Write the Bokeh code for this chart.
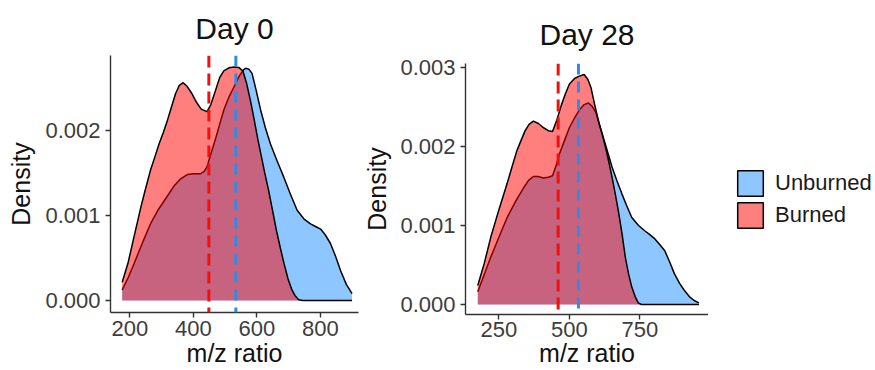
from bokeh.plotting import figure
from bokeh.layouts import row
from bokeh.models import Range1d, FixedTicker, NumeralTickFormatter, Span, Legend, LegendItem
from bokeh.embed import file_html
from bokeh.resources import INLINE

FONT = "Liberation Sans"
NAN = float("nan")

# ---------------- data (density curves) ----------------
groups = ["Unburned", "Burned"]
titles = ["Day 0", "Day 28"]

# Day 0 - Burned
d0_burned_x = [176, 195, 213, 235, 250, 265, 280, 292, 305, 317, 330, 344, 356, 368, 380, 396, 410, 425,
               443, 455, 470, 483, 496, 512, 528, 543, 556, 568, 580, 592, 603, 614, 625, 638, 650, 662,
               674, 686, 698, 710, 720, 732, 745, 900]
d0_burned_y = [0.215e-3, 0.45e-3, 0.745e-3, 1.10e-3, 1.32e-3, 1.53e-3, 1.70e-3, 1.84e-3, 1.97e-3, 2.10e-3,
               2.26e-3, 2.43e-3, 2.53e-3, 2.56e-3, 2.52e-3, 2.43e-3, 2.33e-3, 2.25e-3, 2.22e-3, 2.30e-3,
               2.47e-3, 2.62e-3, 2.70e-3, 2.735e-3, 2.745e-3, 2.74e-3, 2.70e-3, 2.55e-3, 2.35e-3, 2.12e-3,
               1.90e-3, 1.70e-3, 1.50e-3, 1.28e-3, 1.05e-3, 0.82e-3, 0.62e-3, 0.43e-3, 0.26e-3, 0.13e-3,
               0.06e-3, 0.01e-3, 0.0, 0.0]

# Day 0 - Unburned
d0_unburned_x = [176, 195, 213, 240, 265, 290, 317, 340, 360, 381, 400, 423, 435, 443, 456, 470, 483, 496,
                 512, 528, 545, 558, 565, 575, 585, 598, 612, 627, 643, 664, 685, 706, 727, 748, 769, 785,
                 801, 816, 832, 848, 864, 882, 900]
d0_unburned_y = [0.125e-3, 0.27e-3, 0.43e-3, 0.68e-3, 0.90e-3, 1.07e-3, 1.22e-3, 1.35e-3, 1.43e-3, 1.48e-3,
                 1.49e-3, 1.49e-3, 1.52e-3, 1.57e-3, 1.73e-3, 1.90e-3, 2.07e-3, 2.24e-3, 2.39e-3, 2.51e-3,
                 2.64e-3, 2.71e-3, 2.73e-3, 2.72e-3, 2.67e-3, 2.47e-3, 2.24e-3, 2.03e-3, 1.84e-3, 1.64e-3,
                 1.45e-3, 1.25e-3, 1.06e-3, 0.96e-3, 0.90e-3, 0.87e-3, 0.84e-3, 0.77e-3, 0.67e-3, 0.52e-3,
                 0.35e-3, 0.19e-3, 0.08e-3]

# Day 28 - Burned
d28_burned_x = [175, 198, 221, 250, 279, 297, 314, 330, 343, 357, 372, 390, 407, 425, 440, 455, 471, 486,
                500, 518, 535, 552, 565, 576, 590, 605, 617, 628, 640, 651, 663, 675, 687, 698, 710, 721,
                733, 744, 755, 959]
d28_burned_y = [0.24e-3, 0.52e-3, 0.85e-3, 1.20e-3, 1.53e-3, 1.75e-3, 1.95e-3, 2.09e-3, 2.20e-3, 2.28e-3,
                2.32e-3, 2.29e-3, 2.24e-3, 2.20e-3, 2.19e-3, 2.33e-3, 2.52e-3, 2.67e-3, 2.79e-3, 2.86e-3,
                2.89e-3, 2.91e-3, 2.85e-3, 2.75e-3, 2.52e-3, 2.29e-3, 2.14e-3, 1.99e-3, 1.80e-3, 1.61e-3,
                1.39e-3, 1.15e-3, 0.88e-3, 0.60e-3, 0.38e-3, 0.22e-3, 0.10e-3, 0.02e-3, 0.0, 0.0]

# Day 28 - Unburned
d28_unburned_x = [175, 198, 221, 250, 279, 310, 338, 355, 372, 390, 407, 425, 440, 452, 465, 483, 500, 518,
                  535, 552, 567, 580, 594, 608, 623, 637, 651, 668, 686, 703, 721, 745, 768, 786, 803, 820,
                  838, 855, 872, 890, 907, 925, 942, 959]
d28_unburned_y = [0.16e-3, 0.38e-3, 0.60e-3, 0.85e-3, 1.10e-3, 1.31e-3, 1.48e-3, 1.57e-3, 1.62e-3, 1.62e-3,
                  1.60e-3, 1.61e-3, 1.63e-3, 1.75e-3, 1.91e-3, 2.08e-3, 2.24e-3, 2.36e-3, 2.46e-3, 2.53e-3,
                  2.55e-3, 2.51e-3, 2.43e-3, 2.26e-3, 2.08e-3, 1.91e-3, 1.74e-3, 1.57e-3, 1.40e-3, 1.25e-3,
                  1.10e-3, 1.00e-3, 0.93e-3, 0.88e-3, 0.83e-3, 0.76e-3, 0.68e-3, 0.54e-3, 0.39e-3, 0.27e-3,
                  0.18e-3, 0.10e-3, 0.05e-3, 0.02e-3]

# group means (dashed lines): [Unburned, Burned]
d0_means = [534, 449]
d28_means = [532, 460]

# tick values
d0_xticks = [200, 400, 600, 800]
d28_xticks = [250, 500, 750]
d0_yticks = [0.0, 0.001, 0.002]
d28_yticks = [0.0, 0.001, 0.002, 0.003]

# ---------------- styling ----------------
FILL_BLUE = "#1E90FF"
FILL_RED = "#FF0000"
LINE_BLUE = "#2F8CE6"
LINE_RED = "#F01010"


def make_panel(title, ux, uy, bx, by, means, xticks, yticks, xr, yr, width, mb_left, mb_right, mb_top,
               mb_bottom, title_standoff, title_valign, x_tick_standoff, x_label_standoff, y_label_standoff):
    p = figure(width=width, height=370, output_backend="svg", toolbar_location=None,
               x_range=Range1d(*xr), y_range=Range1d(*yr),
               min_border_left=mb_left, min_border_right=mb_right,
               min_border_top=mb_top, min_border_bottom=mb_bottom)
    p.frame_align = False
    p.title.text = title
    p.title.align = "center"
    p.title.vertical_align = title_valign
    p.title.text_font = FONT
    p.title.text_font_size = "30px"
    p.title.text_font_style = "normal"
    p.title.text_color = "#111111"
    p.title.standoff = title_standoff
    p.xgrid.visible = False
    p.ygrid.visible = False
    p.outline_line_color = None
    p.background_fill_color = "white"
    p.border_fill_color = "white"

    # Unburned first, then Burned on top
    p.varea(x=ux, y1=[0] * len(ux), y2=uy, fill_color=FILL_BLUE, fill_alpha=0.5)
    p.line(ux, uy, line_color="black", line_width=1.5)
    p.varea(x=bx, y1=[0] * len(bx), y2=by, fill_color=FILL_RED, fill_alpha=0.5)
    p.line(bx, by, line_color="black", line_width=1.5)

    p.add_layout(Span(location=means[1], dimension="height", line_color=LINE_RED,
                      line_width=3, line_dash="12 6"))
    p.add_layout(Span(location=means[0], dimension="height", line_color=LINE_BLUE,
                      line_width=3, line_dash="11 7"))

    p.xaxis.ticker = FixedTicker(ticks=xticks)
    p.yaxis.ticker = FixedTicker(ticks=yticks)
    p.yaxis.formatter = NumeralTickFormatter(format="0.000")
    p.xaxis.axis_label = "m/z ratio"
    p.yaxis.axis_label = "Density"
    for ax in (p.xaxis, p.yaxis):
        ax.axis_line_color = "#333333"
        ax.axis_line_width = 1.4
        ax.major_tick_line_color = "#333333"
        ax.major_tick_line_width = 1.4
        ax.major_tick_out = 5
        ax.major_tick_in = 0
        ax.minor_tick_line_color = None
        ax.major_label_text_font = FONT
        ax.major_label_text_font_size = "22px"
        ax.major_label_text_color = "#3d3d3d"
        ax.axis_label_text_font = FONT
        ax.axis_label_text_font_size = "25px"
        ax.axis_label_text_font_style = "normal"
        ax.axis_label_text_color = "#111111"
    p.xaxis.major_label_standoff = x_tick_standoff
    p.xaxis.axis_label_standoff = x_label_standoff
    p.yaxis.major_label_standoff = 5
    p.yaxis.axis_label_standoff = y_label_standoff
    return p


p1 = make_panel(titles[0], d0_unburned_x, d0_unburned_y, d0_burned_x, d0_burned_y, d0_means,
                d0_xticks, d0_yticks, (139.2, 920.3), (-0.000141, 0.00288),
                width=360, mb_left=110, mb_right=2, mb_top=55, mb_bottom=58,
                title_standoff=18, title_valign="top",
                x_tick_standoff=3, x_label_standoff=0, y_label_standoff=7)
p2 = make_panel(titles[1], d28_unburned_x, d28_unburned_y, d28_burned_x, d28_burned_y, d28_means,
                d28_xticks, d28_yticks, (131.5, 993.0), (-0.000127, 0.00305),
                width=348, mb_left=101, mb_right=0, mb_top=63, mb_bottom=56,
                title_standoff=25, title_valign="bottom",
                x_tick_standoff=2, x_label_standoff=-1, y_label_standoff=6)

# legend panel (keys with fill + black border; the key glyphs carry no visible data)
p3 = figure(width=167, height=370, output_backend="svg", toolbar_location=None,
            x_range=Range1d(0, 1), y_range=Range1d(0, 1),
            min_border_left=0, min_border_right=0, min_border_top=0, min_border_bottom=0)
p3.frame_align = False
p3.axis.visible = False
p3.xgrid.visible = False
p3.ygrid.visible = False
p3.outline_line_color = None
key_u = p3.quad(left=[NAN], right=[NAN], top=[NAN], bottom=[NAN], fill_color=FILL_BLUE, fill_alpha=0.5,
                line_color="black", line_width=1.5)
key_b = p3.quad(left=[NAN], right=[NAN], top=[NAN], bottom=[NAN], fill_color=FILL_RED, fill_alpha=0.5,
                line_color="black", line_width=1.5)
legend = Legend(items=[LegendItem(label=groups[0], renderers=[key_u], index=0),
                       LegendItem(label=groups[1], renderers=[key_b], index=0)],
                location=(26, 139), glyph_width=32, glyph_height=32, label_height=32,
                spacing=-5, padding=0, margin=0, label_standoff=9,
                label_text_font=FONT, label_text_font_size="22px", label_text_color="#1a1a1a",
                border_line_alpha=0, background_fill_alpha=0)
p3.add_layout(legend, "center")

layout = row(p1, p2, p3)
open("out.html", "w").write(file_html(layout, INLINE))
